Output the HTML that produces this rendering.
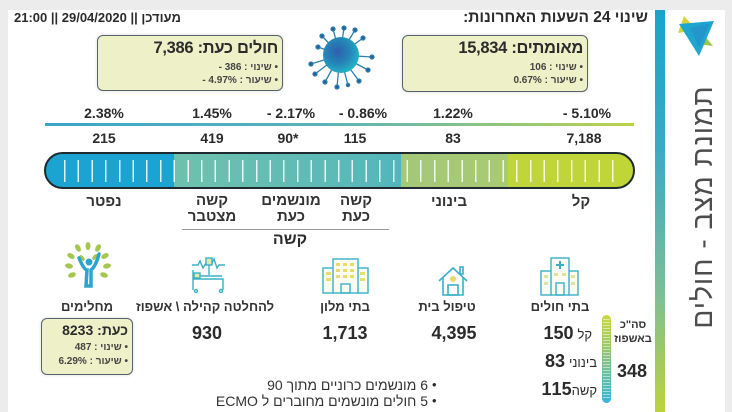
<!DOCTYPE html>
<html><head><meta charset="utf-8">
<style>
body{margin:0;width:732px;height:412px;overflow:hidden;background:#ececec;font-family:"Liberation Sans","DejaVu Sans",sans-serif;position:relative;color:#2b2b2b}
.a{position:absolute;white-space:nowrap}
.c{text-align:center;direction:rtl}
.n{text-align:center;direction:ltr}
.r{text-align:right;direction:rtl}
.l{text-align:right;direction:ltr}
.b{font-weight:bold}
.box{position:absolute;box-sizing:border-box;background:#eef1c8;border:1.5px solid #56636b;border-radius:6px;box-shadow:0 0 3px rgba(0,0,0,.15)}
</style></head><body>
<div class="a" style="left:8px;top:10px;width:717px;height:402px;background:#fff"></div>

<!-- right vertical bar -->
<div class="a" style="left:655px;top:10px;width:10px;height:402px;background:linear-gradient(to bottom,#17a5cc 0%,#3aaac4 35%,#7dbd98 70%,#bcd33a 100%)"></div>

<!-- logo -->
<svg class="a" style="left:672px;top:12px" width="44" height="48" viewBox="672 12 44 48">
<polygon points="684,16 697,30 678,33" fill="#d7d23a"/>
<polygon points="700,30 713,46 697,44" fill="#9cc84a"/>
<polygon points="679,24 714,21 699,56" fill="#1ea6d0"/>
<polygon points="690,28 710,23 699,48" fill="#2a8cc8" opacity=".6"/>
</svg>

<!-- vertical title -->
<div class="a c" style="left:568px;top:191px;width:270px;height:32px;line-height:32px;font-size:28px;letter-spacing:1px;color:#4d4d4d;transform:rotate(-90deg)">תמונת מצב - חולים</div>

<!-- header -->
<div class="a r b" style="right:84px;top:9px;font-size:15.5px;line-height:18px">שינוי 24 השעות האחרונות:</div>
<div class="a b" style="left:14px;top:10px;font-size:13px;line-height:16px;direction:rtl">מעודכן || 29/04/2020 || 21:00</div>

<!-- boxes -->
<div class="box" style="left:97px;top:35px;width:186px;height:56px"></div>
<div class="a r b" style="right:454px;top:38px;font-size:16.5px;letter-spacing:-0.3px;line-height:21px">חולים כעת: 7,386</div>
<div class="a l b" style="right:454px;top:61px;font-size:10px;line-height:13px;color:#444">- 386 : שינוי •</div>
<div class="a l b" style="right:454px;top:74px;font-size:10px;line-height:13px;color:#444">- 4.97% : שיעור •</div>

<div class="box" style="left:402px;top:35px;width:186px;height:57px"></div>
<div class="a r b" style="right:149px;top:38px;font-size:16.5px;letter-spacing:-0.3px;line-height:21px">מאומתים: 15,834</div>
<div class="a l b" style="right:149px;top:61px;font-size:10px;line-height:13px;color:#444">106 : שינוי •</div>
<div class="a l b" style="right:149px;top:74px;font-size:10px;line-height:13px;color:#444">0.67% : שיעור •</div>

<!-- virus -->
<svg class="a" style="left:305px;top:22px" width="70" height="68" viewBox="305 22 70 68">
<defs><radialGradient id="vg" cx="40%" cy="40%" r="60%"><stop offset="0" stop-color="#2d5fb0"/><stop offset=".6" stop-color="#2587b8"/><stop offset="1" stop-color="#22b0c4"/></radialGradient></defs>
<g stroke="#2f7fae" stroke-width="1.3" fill="#245f8f">
<line x1="340" y1="55" x2="333" y2="29"/><circle cx="333" cy="29" r="2"/>
<line x1="340" y1="55" x2="344" y2="28"/><circle cx="344" cy="28" r="2"/>
<line x1="340" y1="55" x2="355" y2="30"/><circle cx="355" cy="30" r="2"/>
<line x1="340" y1="55" x2="363" y2="38"/><circle cx="363" cy="38" r="2"/>
<line x1="340" y1="55" x2="372" y2="57"/><circle cx="372" cy="57" r="2"/>
<line x1="340" y1="55" x2="368" y2="70"/><circle cx="368" cy="70" r="2"/>
<line x1="340" y1="55" x2="359" y2="81"/><circle cx="359" cy="81" r="2"/>
<line x1="340" y1="55" x2="348" y2="85"/><circle cx="348" cy="85" r="1.6"/>
<line x1="340" y1="55" x2="337" y2="87"/><circle cx="337" cy="87" r="2"/>
<line x1="340" y1="55" x2="325" y2="82"/><circle cx="325" cy="82" r="2"/>
<line x1="340" y1="55" x2="315" y2="74"/><circle cx="315" cy="74" r="2"/>
<line x1="340" y1="55" x2="311" y2="64"/><circle cx="311" cy="64" r="2"/>
<line x1="340" y1="55" x2="318" y2="47"/><circle cx="318" cy="47" r="2"/>
<line x1="340" y1="55" x2="322" y2="36"/><circle cx="322" cy="36" r="2"/>
</g>
<circle cx="341" cy="55" r="18" fill="url(#vg)"/>
</svg>

<!-- percent row -->
<div class="a n b" style="left:64px;width:80px;top:105px;font-size:14px;line-height:17px">2.38%</div>
<div class="a n b" style="left:172px;width:80px;top:105px;font-size:14px;line-height:17px">1.45%</div>
<div class="a n b" style="left:251px;width:80px;top:105px;font-size:14px;line-height:17px">- 2.17%</div>
<div class="a n b" style="left:323px;width:80px;top:105px;font-size:14px;line-height:17px">- 0.86%</div>
<div class="a n b" style="left:413px;width:80px;top:105px;font-size:14px;line-height:17px">1.22%</div>
<div class="a n b" style="left:547px;width:80px;top:105px;font-size:14px;line-height:17px">- 5.10%</div>

<div class="a" style="left:45px;top:123px;width:589px;height:2.5px;background:linear-gradient(to right,#3aa5c8,#5db4b8 50%,#bcd34a)"></div>

<!-- numbers row -->
<div class="a n b" style="left:64px;width:80px;top:130px;font-size:14px;line-height:17px">215</div>
<div class="a n b" style="left:172px;width:80px;top:130px;font-size:14px;line-height:17px">419</div>
<div class="a n b" style="left:248px;width:80px;top:130px;font-size:14px;line-height:17px">90*</div>
<div class="a n b" style="left:315px;width:80px;top:130px;font-size:14px;line-height:17px">115</div>
<div class="a n b" style="left:413px;width:80px;top:130px;font-size:14px;line-height:17px">83</div>
<div class="a n b" style="left:544px;width:80px;top:130px;font-size:14px;line-height:17px">7,188</div>

<!-- bar -->
<div class="a" style="left:44px;top:152px;width:591px;height:37px;box-sizing:border-box;border:2px solid #1f2a30;border-radius:19px;overflow:hidden;background:linear-gradient(to right,#1ba4d2 0px,#1ba4d2 128px,#6fc1ae 128px,#5bb9b8 300px,#52b6bc 355px,#a4c87a 355px,#a8ca72 462px,#bfd53a 462px,#c0d538 591px)">
<div style="position:absolute;left:18px;top:6px;width:560px;height:22px;background:repeating-linear-gradient(to right,rgba(255,255,255,.85) 0px,rgba(255,255,255,.85) 1.5px,transparent 1.5px,transparent 13.7px)"></div>
</div>

<!-- labels under bar -->
<div class="a c b" style="left:64px;width:80px;top:193px;font-size:15px;line-height:17px;color:#333">נפטר</div>
<div class="a c" style="left:172px;width:80px;top:193px;font-size:15px;line-height:16px;color:#333;font-weight:600">קשה<br>מצטבר</div>
<div class="a c" style="left:251px;width:80px;top:193px;font-size:15px;line-height:16px;color:#333;font-weight:600">מונשמים<br>כעת</div>
<div class="a c" style="left:316px;width:80px;top:193px;font-size:15px;line-height:16px;color:#333;font-weight:600">קשה<br>כעת</div>
<div class="a c b" style="left:409px;width:80px;top:193px;font-size:15px;line-height:17px;color:#333">בינוני</div>
<div class="a c b" style="left:541px;width:80px;top:193px;font-size:15px;line-height:17px;color:#333">קל</div>
<div class="a" style="left:182px;top:229px;width:207px;height:1px;background:#999"></div>
<div class="a c b" style="left:250px;width:80px;top:231px;font-size:16px;line-height:18px">קשה</div>

<!-- icons -->
<svg class="a" style="left:62px;top:242px" width="52" height="46" viewBox="62 242 52 46">
<g fill="#a6c650">
<ellipse cx="78" cy="248" rx="2.5" ry="4" transform="rotate(-30 78 248)"/>
<ellipse cx="98" cy="248" rx="2.5" ry="4" transform="rotate(30 98 248)"/>
<ellipse cx="71" cy="256" rx="2.5" ry="4" transform="rotate(-60 71 256)"/>
<ellipse cx="105" cy="256" rx="2.5" ry="4" transform="rotate(60 105 256)"/>
<ellipse cx="69" cy="266" rx="2.5" ry="4" transform="rotate(-80 69 266)"/>
<ellipse cx="107" cy="266" rx="2.5" ry="4" transform="rotate(80 107 266)"/>
<ellipse cx="72" cy="275" rx="2.5" ry="4" transform="rotate(-110 72 275)"/>
<ellipse cx="104" cy="275" rx="2.5" ry="4" transform="rotate(110 104 275)"/>
<ellipse cx="88" cy="246" rx="2.5" ry="4"/>
<ellipse cx="82" cy="258" rx="2" ry="3.5" transform="rotate(-40 82 258)"/>
<ellipse cx="95" cy="257" rx="2" ry="3.5" transform="rotate(40 95 257)"/>
</g>
<circle cx="89" cy="262" r="3.5" fill="#2aa5d0"/>
<path d="M79 258 Q84 270 87 270 L86 286 L91 286 L91 270 Q96 266 99 254" stroke="#2aa5d0" stroke-width="3.5" fill="none" stroke-linecap="round"/>
</svg>
<svg class="a" style="left:189px;top:255px" width="40" height="40" viewBox="189 255 40 40">
<g stroke="#3ab0c8" stroke-width="1.4" fill="none">
<path d="M192 265 L198 265 L200 261 L203 268 L206 263 L212 263 L214 259 L217 268 L219 265 L225 265"/>
<rect x="206" y="258" width="6" height="7" fill="#dfe9a8"/>
<line x1="209" y1="265" x2="209" y2="275"/>
<rect x="194" y="273" width="6" height="5" fill="#dfe9a8"/>
<path d="M193 270 L193 290 M193 279 L223 279 L223 290 M200 276 L222 276"/>
<circle cx="196" cy="291" r="1.5"/><circle cx="221" cy="291" r="1.5"/>
</g>
</svg>
<svg class="a" style="left:320px;top:255px" width="52" height="42" viewBox="320 255 52 42">
<g stroke="#3ab0c8" stroke-width="1.4" fill="#fbfbf2">
<rect x="323" y="268" width="11" height="25"/>
<rect x="357" y="268" width="11" height="25"/>
<rect x="333" y="259" width="25" height="34"/>
</g>
<g fill="#e8dc6a">
<rect x="336" y="263" width="4" height="3"/><rect x="343" y="263" width="4" height="3"/><rect x="350" y="263" width="4" height="3"/>
<rect x="336" y="269" width="4" height="3"/><rect x="343" y="269" width="4" height="3"/><rect x="350" y="269" width="4" height="3"/>
<rect x="336" y="275" width="4" height="3"/><rect x="343" y="275" width="4" height="3"/><rect x="350" y="275" width="4" height="3"/>
<rect x="326" y="272" width="5" height="3"/><rect x="326" y="278" width="5" height="3"/><rect x="360" y="272" width="5" height="3"/><rect x="360" y="278" width="5" height="3"/>
</g>
<rect x="341" y="284" width="9" height="9" fill="none" stroke="#3ab0c8" stroke-width="1.4"/>
</svg>
<svg class="a" style="left:436px;top:263px" width="34" height="34" viewBox="436 263 34 34">
<g stroke="#3ab0c8" stroke-width="1.6" fill="none">
<path d="M439 281 L453 268 L467 281"/>
<path d="M443 278 L443 295 L463 295 L463 278"/>
<rect x="460" y="267" width="3" height="7"/>
<rect x="448" y="285" width="10" height="10"/>
</g>
<circle cx="453" cy="279" r="3" fill="#e8d86a"/>
</svg>
<svg class="a" style="left:538px;top:255px" width="44" height="42" viewBox="538 255 44 42">
<g stroke="#3ab0c8" stroke-width="1.4" fill="#fbfbf2">
<rect x="541" y="271" width="11" height="24"/>
<rect x="568" y="271" width="10" height="24"/>
<rect x="551" y="258" width="18" height="37"/>
</g>
<path d="M560 261 L560 269 M556 265 L564 265" stroke="#3ab0c8" stroke-width="2"/>
<g fill="#dfe49a">
<rect x="544" y="275" width="4" height="3"/><rect x="544" y="282" width="4" height="3"/>
<rect x="571" y="275" width="4" height="3"/><rect x="571" y="282" width="4" height="3"/>
<rect x="554" y="273" width="4" height="3"/><rect x="562" y="273" width="4" height="3"/>
</g>
<rect x="556" y="283" width="8" height="12" fill="none" stroke="#3ab0c8" stroke-width="1.4"/>
</svg>

<!-- icon labels -->
<div class="a c b" style="left:42px;width:90px;top:299px;font-size:13px;line-height:16px;color:#333">מחלימים</div>
<div class="a c b" style="left:135px;width:140px;top:299px;font-size:13px;line-height:16px;color:#333">להחלטה קהילה \ אשפוז</div>
<div class="a c b" style="left:300px;width:90px;top:299px;font-size:13px;line-height:16px;color:#333">בתי מלון</div>
<div class="a c b" style="left:402px;width:90px;top:299px;font-size:13px;line-height:16px;color:#333">טיפול בית</div>
<div class="a c b" style="left:515px;width:90px;top:299px;font-size:13px;line-height:16px;color:#333">בתי חולים</div>

<div class="a n b" style="left:167px;width:80px;top:323px;font-size:18px;line-height:21px">930</div>
<div class="a n b" style="left:305px;width:80px;top:323px;font-size:18px;line-height:21px">1,713</div>
<div class="a n b" style="left:414px;width:80px;top:323px;font-size:18px;line-height:21px">4,395</div>

<!-- recovered box -->
<div class="box" style="left:41px;top:318px;width:92px;height:57px"></div>
<div class="a r b" style="right:604px;top:322px;font-size:14px;line-height:17px">כעת: 8233</div>
<div class="a l b" style="right:604px;top:341px;font-size:10px;line-height:13px;color:#444">487 : שינוי •</div>
<div class="a l b" style="right:604px;top:355px;font-size:10px;line-height:13px;color:#444">6.29% : שיעור •</div>

<!-- hospital breakdown -->
<div class="a r" style="right:140px;top:323px;font-size:14px;line-height:20px"><span style="font-size:13px">קל</span> <b style="font-size:18px">150</b></div>
<div class="a r" style="right:135px;top:351px;font-size:14px;line-height:20px"><span style="font-size:13px">בינוני</span> <b style="font-size:18px">83</b></div>
<div class="a r" style="right:135px;top:379px;font-size:14px;line-height:20px"><span style="font-size:13px">קשה</span><b style="font-size:18px">115</b></div>

<div class="a" style="left:602px;top:315px;width:9px;height:88px;border-radius:5px;background:linear-gradient(to bottom,#cbd83a,#8cc47a 45%,#3ab2dc)">
<div style="position:absolute;left:1px;top:4px;width:7px;height:80px;background:repeating-linear-gradient(to bottom,rgba(255,255,255,.5) 0,rgba(255,255,255,.5) 1px,transparent 1px,transparent 3px)"></div>
</div>
<div class="a c b" style="left:612px;width:42px;top:318px;font-size:11px;line-height:14px;color:#333">סה"כ<br>באשפוז</div>
<div class="a n b" style="left:612px;width:40px;top:361px;font-size:18px;line-height:21px">348</div>

<!-- footnotes -->
<div class="a" style="left:432px;top:377px;font-size:13px;line-height:16px">•</div>
<div class="a" style="left:432px;top:393px;font-size:13px;line-height:16px">•</div>
<div class="a r" style="right:304px;top:377px;font-size:14px;line-height:16px;color:#333">6 מונשמים כרוניים מתוך 90</div>
<div class="a r" style="right:304px;top:393px;font-size:14px;line-height:16px;color:#333">5 חולים מונשמים מחוברים ל ECMO</div>

</body></html>
